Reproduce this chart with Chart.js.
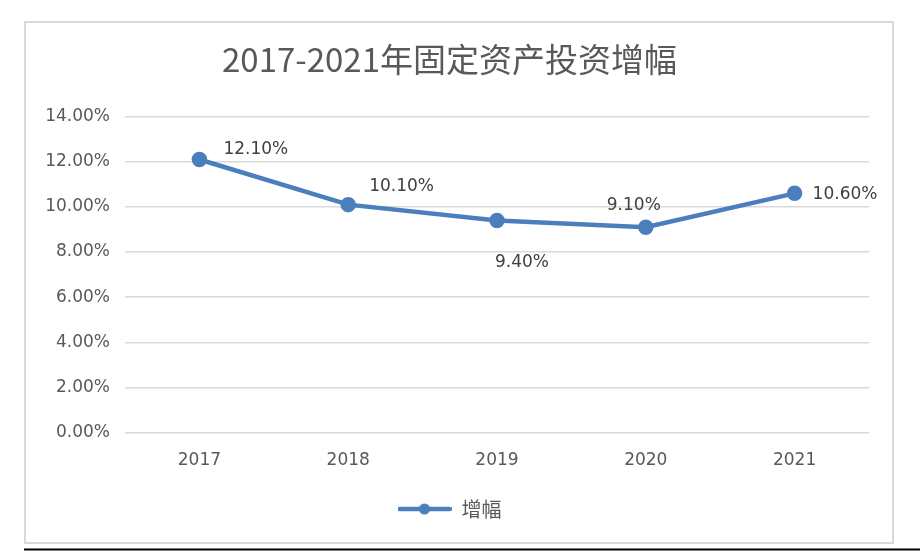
<!DOCTYPE html>
<html>
<head>
<meta charset="utf-8">
<script src="https://cdn.jsdelivr.net/npm/chart.js@4/dist/chart.umd.min.js"></script>
<style>
  html, body { margin: 0; padding: 0; background: #ffffff; }
  #wrap { position: relative; width: 920px; height: 558px; }
</style>
</head>
<body>
<div id="wrap"><canvas id="c" width="920" height="558"></canvas></div>
<script>
const categories = ['2017', '2018', '2019', '2020', '2021'];
const seriesName = '增幅';
const growthValues = [12.10, 10.10, 9.40, 9.10, 10.60];
const yTickValues = [0, 2, 4, 6, 8, 10, 12, 14];
const chartTitle = '2017-2021年固定资产投资增幅';

const LINE_COLOR = '#4a7ebd';
const TEXT_COLOR = '#595959';
const GRID_COLOR = '#d9d9d9';
const LATIN_FONT = '"DejaVu Sans", "Noto Sans CJK SC", sans-serif';
const CJK_FONT = '"Noto Sans CJK SC", "DejaVu Sans", sans-serif';

// legend symbol: line with a circular marker
const legendIcon = document.createElement('canvas');
legendIcon.width = 54; legendIcon.height = 14;
(function () {
  const g = legendIcon.getContext('2d');
  g.strokeStyle = LINE_COLOR; g.lineWidth = 4.5; g.lineCap = 'round';
  g.beginPath(); g.moveTo(2, 7); g.lineTo(52, 7); g.stroke();
  g.fillStyle = LINE_COLOR;
  g.beginPath(); g.arc(27, 7, 5.5, 0, Math.PI * 2); g.fill();
})();

const framePlugin = {
  id: 'frame',
  beforeDraw(chart) {
    const ctx = chart.ctx;
    ctx.save();
    ctx.fillStyle = '#ffffff';
    ctx.fillRect(0, 0, chart.width, chart.height);
    ctx.strokeStyle = '#d9d9d9';
    ctx.lineWidth = 2;
    ctx.strokeRect(25, 22, 868, 521);
    ctx.strokeStyle = '#000000';
    ctx.lineWidth = 2;
    ctx.beginPath(); ctx.moveTo(24, 549.5); ctx.lineTo(920, 549.5); ctx.stroke();
    ctx.restore();
  }
};

const dataLabelPlugin = {
  id: 'pointLabels',
  afterDatasetsDraw(chart, args, opts) {
    const ctx = chart.ctx;
    const meta = chart.getDatasetMeta(0);
    const ds = chart.data.datasets[0];
    ctx.save();
    ctx.font = opts.font;
    ctx.fillStyle = opts.color;
    ctx.textBaseline = 'middle';
    meta.data.forEach((pt, i) => {
      const p = opts.placement[i];
      ctx.textAlign = p.align;
      ctx.fillText(ds.data[i].toFixed(2) + '%', pt.x + p.dx, pt.y + p.dy);
    });
    ctx.restore();
  }
};

new Chart(document.getElementById('c'), {
  type: 'line',
  data: {
    labels: categories,
    datasets: [{
      label: seriesName,
      data: growthValues,
      borderColor: LINE_COLOR,
      backgroundColor: LINE_COLOR,
      borderWidth: 4.5,
      pointRadius: 5.5,
      pointHoverRadius: 5.5,
      pointBackgroundColor: LINE_COLOR,
      pointBorderColor: LINE_COLOR,
      tension: 0,
      fill: false
    }]
  },
  options: {
    responsive: false,
    animation: false,
    devicePixelRatio: 1,
    layout: { padding: { left: 30, right: 51, top: 0, bottom: 29 } },
    plugins: {
      title: {
        display: true,
        text: chartTitle,
        color: TEXT_COLOR,
        font: { family: CJK_FONT, size: 33, weight: 'normal' },
        padding: { top: 40, bottom: 37 }
      },
      legend: {
        display: true,
        position: 'bottom',
        labels: {
          usePointStyle: true,
          pointStyleWidth: 54,
          boxHeight: 14,
          padding: 10,
          color: TEXT_COLOR,
          font: { family: CJK_FONT, size: 20 },
          generateLabels(chart) {
            return [{
              text: seriesName,
              pointStyle: legendIcon,
              fillStyle: LINE_COLOR,
              strokeStyle: LINE_COLOR,
              lineWidth: 0,
              hidden: false,
              datasetIndex: 0,
              fontColor: TEXT_COLOR
            }];
          }
        }
      },
      tooltip: { enabled: false },
      pointLabels: {
        font: '17px ' + LATIN_FONT,
        color: '#404040',
        placement: [
          { dx: 24, dy: -10, align: 'left' },
          { dx: 21, dy: -18, align: 'left' },
          { dx: 25, dy: 42, align: 'center' },
          { dx: -12, dy: -22, align: 'center' },
          { dx: 18, dy: 1, align: 'left' }
        ]
      }
    },
    scales: {
      x: {
        offset: true,
        grid: { display: false, drawTicks: false },
        border: { display: false },
        ticks: { color: TEXT_COLOR, font: { family: LATIN_FONT, size: 17 }, padding: 18 }
      },
      y: {
        min: 0,
        max: 14,
        afterFit(scale) { scale.width = 95; },
        afterBuildTicks(scale) { scale.ticks = yTickValues.map(v => ({ value: v })); },
        grid: { color: GRID_COLOR, lineWidth: 1.5, drawTicks: false },
        border: { display: false },
        ticks: {
          color: TEXT_COLOR,
          padding: 15,
          font: { family: LATIN_FONT, size: 17 },
          callback: v => v.toFixed(2) + '%'
        }
      }
    }
  },
  plugins: [framePlugin, dataLabelPlugin]
});
</script>
</body>
</html>
